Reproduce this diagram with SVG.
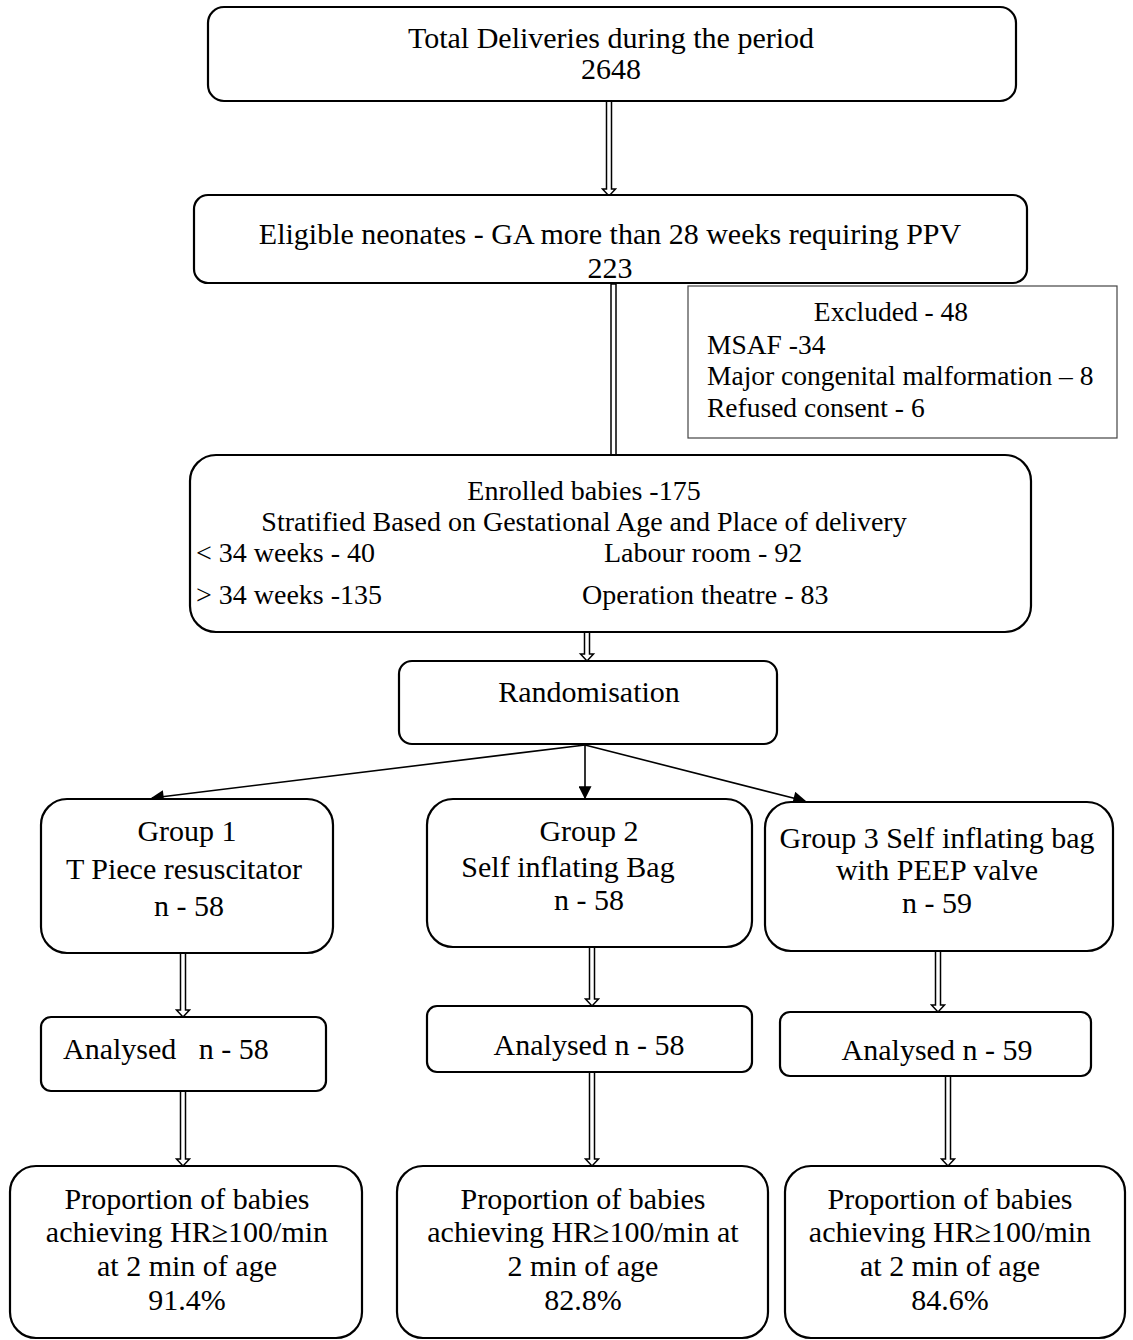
<svg xmlns="http://www.w3.org/2000/svg" width="1133" height="1340" viewBox="0 0 1133 1340">
<defs>
<style>
.box{fill:#fff;stroke:#000;stroke-width:2.2}
.ex{fill:#fff;stroke:#444;stroke-width:1.2}
.t{font-family:"Liberation Serif","Times New Roman",serif;font-size:30px;fill:#000}
.s{font-size:27.5px}
.m{font-size:28px}
.c{text-anchor:middle}
.dbl{fill:#fff;stroke:#000;stroke-width:1.5}
.ln{stroke:#000;stroke-width:1.6;fill:none}
</style>
<marker id="ah2" viewBox="0 0 10 10" refX="9" refY="5" markerWidth="15" markerHeight="13" orient="auto" markerUnits="userSpaceOnUse">
<path d="M0,0 L10,5 L0,10 Z" fill="#000"/>
</marker>
</defs>
<rect width="1133" height="1340" fill="#fff"/>

<g id="connectors">
<path class="dbl" d="M606.5,101 V189 H602.5 L609,196 L615.5,189 H611.5 V101 Z"/>
<path class="dbl" d="M611,284 V455 H616 V284 Z"/>
<path class="dbl" d="M584.5,632 V654 H580.5 L587,661 L593.5,654 H589.5 V632 Z"/>
<line class="ln" x1="585" y1="745" x2="152" y2="798" marker-end="url(#ah2)"/>
<line class="ln" x1="585" y1="745" x2="585" y2="798" marker-end="url(#ah2)"/>
<line class="ln" x1="585" y1="745" x2="805" y2="801" marker-end="url(#ah2)"/>
<path class="dbl" d="M180.5,953 V1010 H176.5 L183,1017 L189.5,1010 H185.5 V953 Z"/>
<path class="dbl" d="M589.5,947 V999 H585.5 L592,1006 L598.5,999 H594.5 V947 Z"/>
<path class="dbl" d="M935.5,951 V1005 H931.5 L938,1012 L944.5,1005 H940.5 V951 Z"/>
<path class="dbl" d="M180.5,1091 V1159 H176.5 L183,1166 L189.5,1159 H185.5 V1091 Z"/>
<path class="dbl" d="M589.5,1072 V1159 H585.5 L592,1166 L598.5,1159 H594.5 V1072 Z"/>
<path class="dbl" d="M945.5,1076 V1159 H941.5 L948,1166 L954.5,1159 H950.5 V1076 Z"/>
</g>

<g id="n-total">
<rect class="box" x="208" y="7" width="808" height="94" rx="16"/>
<text class="t c" x="611" y="48">Total Deliveries during the period</text>
<text class="t c" x="611" y="79">2648</text>
</g>

<g id="n-eligible">
<rect class="box" x="194" y="195" width="833" height="88" rx="14"/>
<text class="t c" x="610" y="244">Eligible neonates - GA more than 28 weeks requiring PPV</text>
<text class="t c" x="610" y="278">223</text>
</g>

<g id="n-excluded">
<rect class="ex" x="688" y="286" width="429" height="152"/>
<text class="t s c" x="891" y="321">Excluded - 48</text>
<text class="t s" x="707" y="354">MSAF -34</text>
<text class="t s" x="707" y="385">Major congenital malformation – 8</text>
<text class="t s" x="707" y="417">Refused consent - 6</text>
</g>

<g id="n-enrolled">
<rect class="box" x="190" y="455" width="841" height="177" rx="26"/>
<text class="t m c" x="584" y="500">Enrolled babies -175</text>
<text class="t m c" x="584" y="531">Stratified Based on Gestational Age and Place of delivery</text>
<text class="t m" x="196" y="562">&lt; 34 weeks - 40</text>
<text class="t m" x="604" y="562">Labour room - 92</text>
<text class="t m" x="196" y="604">&gt; 34 weeks -135</text>
<text class="t m" x="582" y="604">Operation theatre - 83</text>
</g>

<g id="n-random">
<rect class="box" x="399" y="661" width="378" height="83" rx="13"/>
<text class="t c" x="589" y="702">Randomisation</text>
</g>

<g id="n-group1">
<rect class="box" x="41" y="799" width="292" height="154" rx="26"/>
<text class="t c" x="187" y="841">Group 1</text>
<text class="t c" x="184" y="879">T Piece resuscitator</text>
<text class="t c" x="189" y="916">n - 58</text>
</g>

<g id="n-group2">
<rect class="box" x="427" y="799" width="325" height="148" rx="26"/>
<text class="t c" x="589" y="841">Group 2</text>
<text class="t c" x="568" y="877">Self inflating Bag</text>
<text class="t c" x="589" y="910">n - 58</text>
</g>

<g id="n-group3">
<rect class="box" x="765" y="802" width="348" height="149" rx="26"/>
<text class="t c" x="937" y="848">Group 3 Self inflating bag</text>
<text class="t c" x="937" y="880">with PEEP valve</text>
<text class="t c" x="937" y="913">n - 59</text>
</g>

<g id="n-an1">
<rect class="box" x="41" y="1017" width="285" height="74" rx="10"/>
<text class="t" x="63" y="1059" xml:space="preserve">Analysed   n - 58</text>
</g>

<g id="n-an2">
<rect class="box" x="427" y="1006" width="325" height="66" rx="10"/>
<text class="t c" x="589" y="1055">Analysed n - 58</text>
</g>

<g id="n-an3">
<rect class="box" x="780" y="1012" width="311" height="64" rx="10"/>
<text class="t c" x="937" y="1060">Analysed n - 59</text>
</g>

<g id="n-res1">
<rect class="box" x="10" y="1166" width="352" height="172" rx="26"/>
<text class="t c" x="187" y="1209">Proportion of babies</text>
<text class="t c" x="187" y="1242">achieving HR≥100/min</text>
<text class="t c" x="187" y="1276">at 2 min of age</text>
<text class="t c" x="187" y="1310">91.4%</text>
</g>

<g id="n-res2">
<rect class="box" x="397" y="1166" width="371" height="172" rx="26"/>
<text class="t c" x="583" y="1209">Proportion of babies</text>
<text class="t c" x="583" y="1242">achieving HR≥100/min at</text>
<text class="t c" x="583" y="1276">2 min of age</text>
<text class="t c" x="583" y="1310">82.8%</text>
</g>

<g id="n-res3">
<rect class="box" x="785" y="1166" width="340" height="172" rx="26"/>
<text class="t c" x="950" y="1209">Proportion of babies</text>
<text class="t c" x="950" y="1242">achieving HR≥100/min</text>
<text class="t c" x="950" y="1276">at 2 min of age</text>
<text class="t c" x="950" y="1310">84.6%</text>
</g>
</svg>
